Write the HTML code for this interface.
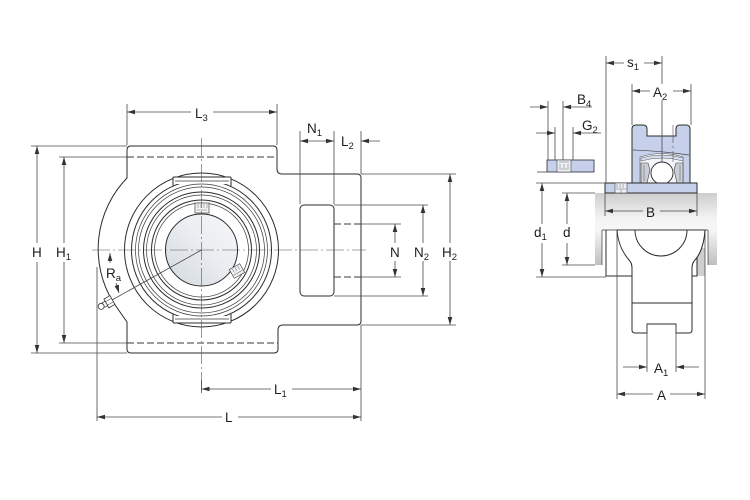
<!DOCTYPE html>
<html>
<head>
<meta charset="utf-8">
<style>
html,body{margin:0;padding:0;background:#fff;width:750px;height:500px;overflow:hidden;}
svg{display:block;}
text{font-family:"Liberation Sans",Arial,sans-serif;font-size:13.5px;fill:#1e1e1e;}
.s{font-size:9.5px;}
.o{stroke:#2b2b2b;stroke-width:1;fill:none;}
.ow{stroke:#2b2b2b;stroke-width:1;fill:#fff;}
.t{stroke:#3a3a3a;stroke-width:0.7;fill:none;}
.d{stroke:#4a4a4a;stroke-width:0.8;fill:none;}
.c{stroke:#555;stroke-width:0.6;fill:none;stroke-dasharray:18 3 2 3;}
.ds{stroke:#3a3a3a;stroke-width:0.9;fill:none;stroke-dasharray:7 3;}
</style>
</head>
<body>
<svg width="750" height="500" viewBox="0 0 750 500" xmlns="http://www.w3.org/2000/svg">
<defs>
<marker id="ar" viewBox="0 0 8 6" refX="8" refY="3" markerWidth="8" markerHeight="6" orient="auto" markerUnits="userSpaceOnUse">
<path d="M0,0.7 L8,3 L0,5.3 Z" fill="#333"/>
</marker>
<linearGradient id="bore" x1="0" y1="1" x2="1" y2="0">
<stop offset="0" stop-color="#d3d9e0"/>
<stop offset="0.6" stop-color="#eceff2"/>
<stop offset="1" stop-color="#f6f7f8"/>
</linearGradient>
<linearGradient id="shaft" x1="0" y1="0" x2="0" y2="1">
<stop offset="0" stop-color="#cdcdcd"/>
<stop offset="0.35" stop-color="#f3f3f3"/>
<stop offset="0.5" stop-color="#f7f7f7"/>
<stop offset="1" stop-color="#bfbfbf"/>
</linearGradient>
</defs>

<!-- ================= LEFT VIEW ================= -->
<path class="ow" d="M127 178 L127 150 Q127 146 131 146 L273 146 Q277 146 277 150 L277 169 Q277 174 282 174 L357 174 Q361 174 361 178 L361 321 Q361 325 357 325 L283 325 Q278 325 278 330 L278 349 Q278 353 274 353 L131 353 Q127 353 127 349 L127 322 L113 302 A102 102 0 0 1 127 178 Z"/>
<line class="ds" x1="127" y1="157" x2="277" y2="157"/>
<line class="ds" x1="127" y1="343" x2="278" y2="343"/>

<circle class="ow" cx="201.5" cy="250" r="77"/>
<circle class="o" cx="201.5" cy="250" r="70"/>
<rect x="173.5" y="176.5" width="57" height="7.5" fill="#fff"/>
<path class="o" d="M173 186 L173 178 Q173 177 174 177 L230 177 Q231 177 231 178 L231 186"/>
<line class="t" x1="175" y1="181" x2="229" y2="181"/>
<rect x="173.5" y="316" width="57" height="7.5" fill="#fff"/>
<path class="o" d="M173 314 L173 322 Q173 323 174 323 L230 323 Q231 323 231 322 L231 314"/>
<line class="t" x1="175" y1="319" x2="229" y2="319"/>
<circle class="t" cx="201.5" cy="250" r="66"/>
<circle class="t" cx="201.5" cy="250" r="63"/>
<circle class="o" cx="201.5" cy="250" r="58"/>
<circle class="t" cx="201.5" cy="250" r="55" stroke-width="0.6"/>
<circle class="o" cx="201.5" cy="250" r="50" stroke-width="0.9"/>
<circle class="t" cx="201.5" cy="250" r="47"/>
<circle cx="201.5" cy="250" r="36" fill="url(#bore)" stroke="#2b2b2b" stroke-width="1"/>

<rect x="195" y="203" width="14" height="10" fill="#f2f3f5" stroke="#444" stroke-width="0.7"/>
<path d="M198 204 v4 M201 204 v4 M204 204 v4 M207 204 v4 M197 210 h10" stroke="#666" stroke-width="0.5"/>
<g transform="translate(237,271) rotate(-30)">
<rect x="-6" y="-5" width="12" height="10" fill="#f2f3f5" stroke="#444" stroke-width="0.7"/>
<path d="M-3 -4 v4 M0 -4 v4 M3 -4 v4 M-5 2 h10" stroke="#666" stroke-width="0.5"/>
</g>

<rect class="ow" x="300" y="205" width="34" height="91" rx="4"/>

<line class="c" x1="92" y1="250" x2="366" y2="250"/>
<line class="c" x1="201.5" y1="138" x2="201.5" y2="393"/>

<line class="d" x1="201.5" y1="250" x2="112" y2="300"/>
<g transform="translate(112.5,300) rotate(150.8)">
<rect x="0" y="-5" width="7" height="10" fill="#fff" stroke="#333" stroke-width="0.8"/>
<path d="M0 -2 H7 M0 2 H7" stroke="#333" stroke-width="0.5"/>
<rect x="7" y="-2.5" width="3.5" height="5" fill="#fff" stroke="#333" stroke-width="0.7"/>
<circle cx="13" cy="0" r="3" fill="#fff" stroke="#333" stroke-width="0.8"/>
</g>
<line class="d" x1="110" y1="263" x2="110" y2="253" marker-end="url(#ar)"/>
<line class="d" x1="116" y1="283" x2="119" y2="293" marker-end="url(#ar)"/>
<text x="106" y="278">R<tspan class="s" dy="3">a</tspan></text>

<line class="d" x1="127" y1="104" x2="127" y2="145"/>
<line class="d" x1="277" y1="104" x2="277" y2="145"/>
<line class="d" x1="191" y1="112" x2="127" y2="112" marker-end="url(#ar)"/>
<line class="d" x1="213" y1="112" x2="277" y2="112" marker-end="url(#ar)"/>
<text x="195" y="118">L<tspan class="s" dy="3">3</tspan></text>

<line class="d" x1="31" y1="146" x2="127" y2="146"/>
<line class="d" x1="31" y1="353" x2="127" y2="353"/>
<line class="d" x1="37" y1="243" x2="37" y2="146" marker-end="url(#ar)"/>
<line class="d" x1="37" y1="262" x2="37" y2="353" marker-end="url(#ar)"/>
<text x="32" y="257">H</text>

<line class="d" x1="59" y1="157" x2="127" y2="157"/>
<line class="d" x1="59" y1="343" x2="127" y2="343"/>
<line class="d" x1="64" y1="243" x2="64" y2="157" marker-end="url(#ar)"/>
<line class="d" x1="64" y1="262" x2="64" y2="343" marker-end="url(#ar)"/>
<text x="56" y="257">H<tspan class="s" dy="3">1</tspan></text>

<line class="d" x1="300" y1="131" x2="300" y2="204"/>
<line class="d" x1="334" y1="131" x2="334" y2="204"/>
<line class="d" x1="361" y1="131" x2="361" y2="174"/>
<line class="d" x1="317" y1="141" x2="300" y2="141" marker-end="url(#ar)"/>
<line class="d" x1="317" y1="141" x2="334" y2="141" marker-end="url(#ar)"/>
<line class="d" x1="380" y1="141" x2="361" y2="141" marker-end="url(#ar)"/>
<text x="307" y="133">N<tspan class="s" dy="3">1</tspan></text>
<text x="341" y="146">L<tspan class="s" dy="3">2</tspan></text>

<line class="ds" x1="334" y1="224" x2="361" y2="224" stroke-width="0.7"/>
<line class="ds" x1="334" y1="277" x2="361" y2="277" stroke-width="0.7"/>
<line class="d" x1="361" y1="224" x2="401" y2="224"/>
<line class="d" x1="361" y1="277" x2="401" y2="277"/>
<line class="d" x1="395" y1="243" x2="395" y2="224" marker-end="url(#ar)"/>
<line class="d" x1="395" y1="261" x2="395" y2="277" marker-end="url(#ar)"/>
<text x="390" y="257">N</text>

<line class="d" x1="334" y1="205" x2="428" y2="205"/>
<line class="d" x1="334" y1="296" x2="428" y2="296"/>
<line class="d" x1="423" y1="243" x2="423" y2="205" marker-end="url(#ar)"/>
<line class="d" x1="423" y1="261" x2="423" y2="296" marker-end="url(#ar)"/>
<text x="414" y="257">N<tspan class="s" dy="3">2</tspan></text>

<line class="d" x1="361" y1="174" x2="456" y2="174"/>
<line class="d" x1="361" y1="325" x2="456" y2="325"/>
<line class="d" x1="450" y1="243" x2="450" y2="174" marker-end="url(#ar)"/>
<line class="d" x1="450" y1="261" x2="450" y2="325" marker-end="url(#ar)"/>
<text x="442" y="257">H<tspan class="s" dy="3">2</tspan></text>

<line class="d" x1="361" y1="325" x2="361" y2="421"/>
<line class="d" x1="97" y1="267" x2="97" y2="421"/>
<line class="d" x1="201.5" y1="380" x2="201.5" y2="393"/>
<line class="d" x1="271" y1="389" x2="201.5" y2="389" marker-end="url(#ar)"/>
<line class="d" x1="292" y1="389" x2="361" y2="389" marker-end="url(#ar)"/>
<text x="274" y="394">L<tspan class="s" dy="3">1</tspan></text>
<line class="d" x1="222" y1="417" x2="97" y2="417" marker-end="url(#ar)"/>
<line class="d" x1="238" y1="417" x2="361" y2="417" marker-end="url(#ar)"/>
<text x="225" y="422">L</text>

<!-- ================= RIGHT VIEW ================= -->
<rect x="595" y="193" width="122" height="72" fill="url(#shaft)"/>
<rect x="602" y="230" width="106" height="35" fill="#fff"/>
<line class="t" x1="602" y1="230" x2="602" y2="265"/>
<line class="t" x1="708" y1="230" x2="708" y2="265"/>
<rect x="697" y="248" width="8" height="28" fill="#cfcfcf"/>
<path class="o" d="M606 230 L606 276 L697 276 L697 230" fill="#fff" stroke-width="0.8"/>
<line class="d" x1="617" y1="230" x2="617" y2="399"/>
<line class="d" x1="705" y1="230" x2="705" y2="399"/>
<path class="ow" d="M617 230 C618 244 623 253 629 260 Q632 263 632 268 L632 330 Q632 333 635 333 L647 333 L647 324 L676 324 L676 333 L689 333 Q692 333 692 330 L692 268 Q692 263 695 260 C701 253 704 244 705 230 Z"/>
<path class="o" d="M635 230 A26 26 0 0 0 687 230"/>
<line class="o" x1="632" y1="303" x2="692" y2="303" stroke-width="0.8"/>
<line class="t" x1="602" y1="230" x2="708" y2="230"/>

<path d="M632 183 L632 129 Q632 125 636 125 L643 125 Q647 125 647 129 L647 136 L676 136 L676 129 Q676 125 680 125 L686 125 Q690 125 690 129 L690 183 Z" fill="#c6d0ea" stroke="#2b2b2b" stroke-width="1"/>
<path d="M640 183 L640 157 Q662 150 683 157 L683 183 Z" fill="#f3f5fa" stroke="#555" stroke-width="0.6"/>
<path d="M633 150 Q662 151 689 155" stroke="#444" stroke-width="0.7" fill="none"/>
<path d="M641 158 Q662 152 683 158 L683 161 Q662 155 641 161 Z" fill="#d6ddf0" stroke="#555" stroke-width="0.5"/>
<path d="M641 163 L648 163 L650 170 L647 183 L641 183 Z" fill="#c9ced8" stroke="#444" stroke-width="0.6"/>
<path d="M683 163 L676 163 L674 170 L677 183 L683 183 Z" fill="#c9ced8" stroke="#444" stroke-width="0.6"/>
<path d="M644 165 v16 M680 165 v16" stroke="#555" stroke-width="0.5"/>
<circle cx="662" cy="173" r="11" fill="#fff" stroke="#2b2b2b" stroke-width="0.9"/>
<line class="c" x1="673" y1="125" x2="673" y2="162"/>

<rect x="605" y="183" width="92" height="10" fill="#c6d0ea" stroke="#2b2b2b" stroke-width="1"/>
<rect x="615" y="183" width="12" height="10" fill="#eef0f6" stroke="#444" stroke-width="0.6"/>
<path d="M617 184 v4 M620 184 v4 M623 184 v4 M616 189 h10 M621 189 v4" stroke="#666" stroke-width="0.5"/>

<rect x="547" y="160" width="47" height="12" fill="#c6d0ea" stroke="#2b2b2b" stroke-width="0.8"/>
<rect x="557" y="160" width="14" height="12" fill="#eef0f6" stroke="#444" stroke-width="0.6"/>
<path d="M559 162 h10 M560 164 v4 M564 164 v4 M568 164 v4 M559 169 h10" stroke="#666" stroke-width="0.5"/>
<line class="d" x1="537" y1="172" x2="547" y2="172"/>

<line class="d" x1="606" y1="56" x2="606" y2="183"/>
<line class="d" x1="662" y1="56" x2="662" y2="84"/>
<line class="d" x1="662" y1="100" x2="662" y2="162"/>
<line class="d" x1="624" y1="63" x2="606" y2="63" marker-end="url(#ar)"/>
<line class="d" x1="644" y1="63" x2="662" y2="63" marker-end="url(#ar)"/>
<text x="627" y="67">s<tspan class="s" dy="3">1</tspan></text>

<line class="d" x1="632" y1="84" x2="632" y2="125"/>
<line class="d" x1="691" y1="84" x2="691" y2="125"/>
<line class="d" x1="650" y1="91" x2="632" y2="91" marker-end="url(#ar)"/>
<line class="d" x1="673" y1="91" x2="691" y2="91" marker-end="url(#ar)"/>
<text x="653" y="97">A<tspan class="s" dy="3">2</tspan></text>

<line class="d" x1="548" y1="101" x2="548" y2="160"/>
<line class="d" x1="563" y1="101" x2="563" y2="160"/>
<line class="d" x1="530" y1="107" x2="548" y2="107" marker-end="url(#ar)"/>
<line class="d" x1="592" y1="107" x2="563" y2="107" marker-end="url(#ar)"/>
<text x="577" y="104">B<tspan class="s" dy="3">4</tspan></text>

<line class="d" x1="555" y1="127" x2="555" y2="160"/>
<line class="d" x1="573" y1="127" x2="573" y2="160"/>
<line class="d" x1="536" y1="133" x2="555" y2="133" marker-end="url(#ar)"/>
<line class="d" x1="601" y1="133" x2="573" y2="133" marker-end="url(#ar)"/>
<text x="582" y="130">G<tspan class="s" dy="3">2</tspan></text>

<line class="d" x1="536" y1="183" x2="605" y2="183"/>
<line class="d" x1="536" y1="277" x2="606" y2="277"/>
<line class="d" x1="542" y1="224" x2="542" y2="183" marker-end="url(#ar)"/>
<line class="d" x1="542" y1="243" x2="542" y2="277" marker-end="url(#ar)"/>
<text x="534" y="237">d<tspan class="s" dy="3">1</tspan></text>

<line class="d" x1="562" y1="193" x2="595" y2="193"/>
<line class="d" x1="562" y1="265" x2="595" y2="265"/>
<line class="d" x1="567" y1="224" x2="567" y2="193" marker-end="url(#ar)"/>
<line class="d" x1="567" y1="243" x2="567" y2="265" marker-end="url(#ar)"/>
<text x="563" y="237">d</text>

<line class="d" x1="605" y1="193" x2="605" y2="216"/>
<line class="d" x1="697" y1="193" x2="697" y2="216"/>
<line class="d" x1="643" y1="211" x2="605" y2="211" marker-end="url(#ar)"/>
<line class="d" x1="660" y1="211" x2="697" y2="211" marker-end="url(#ar)"/>
<text x="646" y="217">B</text>

<line class="d" x1="647" y1="324" x2="647" y2="372"/>
<line class="d" x1="676" y1="324" x2="676" y2="372"/>
<line class="d" x1="623" y1="367" x2="647" y2="367" marker-end="url(#ar)"/>
<line class="d" x1="699" y1="367" x2="676" y2="367" marker-end="url(#ar)"/>
<text x="654" y="373">A<tspan class="s" dy="3">1</tspan></text>

<line class="d" x1="653" y1="394" x2="617" y2="394" marker-end="url(#ar)"/>
<line class="d" x1="670" y1="394" x2="705" y2="394" marker-end="url(#ar)"/>
<text x="657" y="400">A</text>
</svg>
</body>
</html>
